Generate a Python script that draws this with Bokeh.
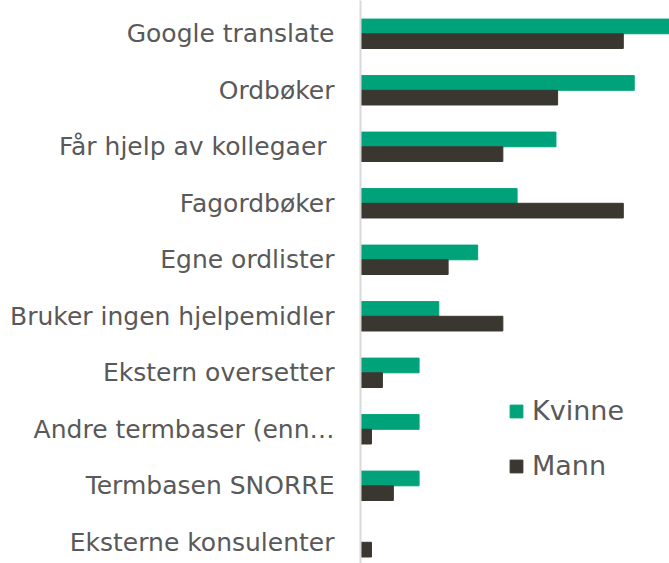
from bokeh.plotting import figure
from bokeh.models import Range1d, FixedTicker, ColumnDataSource
from bokeh.embed import file_html
from bokeh.resources import INLINE

categories = ["Google translate", "Ordbøker", "Får hjelp av kollegaer ", "Fagordbøker",
              "Egne ordlister", "Bruker ingen hjelpemidler", "Ekstern oversetter",
              "Andre termbaser (enn…", "Termbasen SNORRE", "Eksterne konsulenter"]
kvinne = [57.1, 50.0, 35.7, 28.6, 21.4, 14.3, 10.7, 10.7, 10.7, 0.0]
mann = [48, 36, 26, 48, 16, 26, 4, 2, 6, 2]

pos = list(range(len(categories)))
bar_h = 0.26
src = ColumnDataSource(dict(
    yk=[i - bar_h / 2 for i in pos],
    ym=[i + bar_h / 2 for i in pos],
    k=kvinne, m=mann))

p = figure(width=669, height=563, output_backend="svg", toolbar_location=None,
           x_range=Range1d(0, 56.44), y_range=Range1d(9.375, -0.589),
           x_axis_location=None, min_border_left=360, min_border_right=0,
           min_border_top=0, min_border_bottom=0)
p.outline_line_color = None
p.xgrid.visible = False
p.ygrid.visible = False

p.hbar(y="yk", right="k", left=0, height=bar_h, source=src, color="#00A27A",
       legend_label="Kvinne")
p.hbar(y="ym", right="m", left=0, height=bar_h, source=src, color="#3A3630",
       legend_label="Mann")

ax = p.yaxis[0]
ax.ticker = FixedTicker(ticks=pos)
ax.major_label_overrides = {i: c for i, c in zip(pos, categories)}
ax.major_tick_line_color = None
ax.minor_tick_line_color = None
ax.major_tick_out = 0
ax.major_tick_in = 0
ax.major_label_standoff = 26
ax.axis_line_color = "#D9D9D9"
ax.axis_line_width = 2
ax.major_label_text_font = "DejaVu Sans"
ax.major_label_text_font_size = "25px"
ax.major_label_text_color = "#595959"

lg = p.legend[0]
lg.location = (148, 82)
lg.border_line_color = None
lg.background_fill_alpha = 0
lg.padding = 0
lg.margin = 0
lg.glyph_width = 16
lg.glyph_height = 16
lg.label_standoff = 8
lg.spacing = 24
lg.label_text_font = "DejaVu Sans"
lg.label_text_font_size = "27px"
lg.label_text_color = "#595959"

open("out.html", "w").write(file_html(p, INLINE))
